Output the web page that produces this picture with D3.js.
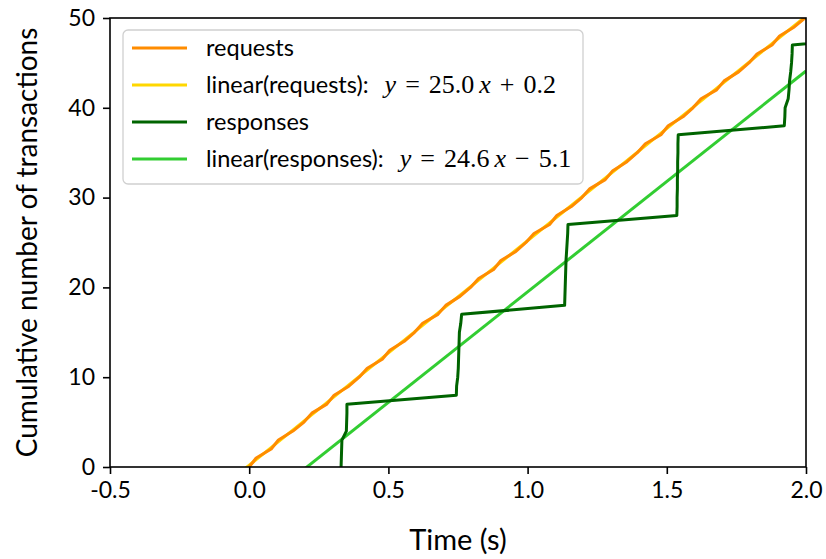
<!DOCTYPE html>
<html>
<head>
<meta charset="utf-8">
<script src="https://cdn.jsdelivr.net/npm/d3@7"></script>
<style>
  html, body { margin: 0; padding: 0; background: #fff; }
  svg { display: block; }
</style>
</head>
<body>
<div id="chart"></div>
<script>
// Cumulative request / response counts over time, with linear fits.

// request arrival times (s); count goes 0..50
const requestTimes = [
  0.000, 0.025, 0.079, 0.105, 0.157, 0.197, 0.225, 0.279, 0.305, 0.358,
  0.395, 0.424, 0.478, 0.505, 0.557, 0.594, 0.623, 0.678, 0.706, 0.757,
  0.795, 0.824, 0.878, 0.904, 0.958, 0.994, 1.023, 1.079, 1.105, 1.157,
  1.195, 1.224, 1.279, 1.306, 1.357, 1.394, 1.423, 1.479, 1.505, 1.558,
  1.594, 1.623, 1.679, 1.706, 1.758, 1.795, 1.824, 1.878, 1.905, 1.958,
  1.996
];

// response times (s); count goes 0..48 (responses come in bursts)
const responseTimes = [
  0.330, 0.331, 0.332, 0.333, 0.349, 0.350, 0.351, 0.351,
  0.744, 0.745, 0.749, 0.751, 0.752, 0.753, 0.754, 0.755, 0.760, 0.763,
  1.133, 1.134, 1.135, 1.136, 1.137, 1.138, 1.140, 1.142, 1.144, 1.145,
  1.536, 1.537, 1.537, 1.538, 1.538, 1.539, 1.539, 1.540, 1.540, 1.541,
  1.922, 1.924, 1.925, 1.936, 1.939, 1.941, 1.945, 1.948, 1.950, 1.951,
  2.320
];

// linear fits [slope, intercept]
const requestFit  = [25.0, 0.2];
const responseFit = [24.6, -5.1];

const xTicks = [-0.5, 0.0, 0.5, 1.0, 1.5, 2.0];
const yTicks = [0, 10, 20, 30, 40, 50];

const W = 826, H = 559;
const M = { top: 18, right: 20, bottom: 92, left: 110 };
const SANS = "Lato, 'Open Sans', sans-serif";
const SERIF = "'Liberation Serif', 'DejaVu Serif', serif";

const C = {
  requests: "#ff8c00",
  requestsFit: "#ffd700",
  responses: "#006400",
  responsesFit: "#32cd32",
};

const svg = d3.select("#chart").append("svg")
  .attr("width", W).attr("height", H)
  .attr("font-family", SANS);

const x = d3.scaleLinear().domain([-0.5, 2.0]).range([M.left, W - M.right]);
const y = d3.scaleLinear().domain([0, 50]).range([H - M.bottom, M.top]);

svg.append("clipPath").attr("id", "plot-clip")
  .append("rect")
  .attr("x", M.left).attr("y", M.top)
  .attr("width", W - M.left - M.right)
  .attr("height", H - M.top - M.bottom);

const plot = svg.append("g").attr("clip-path", "url(#plot-clip)");

const line = d3.line().x(d => x(d[0])).y(d => y(d[1]));
const fitPts = (f) => x.domain().map(t => [t, f[0] * t + f[1]]);

plot.append("path").datum(fitPts(requestFit))
  .attr("d", line).attr("fill", "none")
  .attr("stroke", C.requestsFit).attr("stroke-width", 3);
plot.append("path").datum(fitPts(responseFit))
  .attr("d", line).attr("fill", "none")
  .attr("stroke", C.responsesFit).attr("stroke-width", 3);

plot.append("path").datum(requestTimes.map((t, i) => [t, i]))
  .attr("d", line).attr("fill", "none")
  .attr("stroke", C.requests).attr("stroke-width", 3)
  .attr("stroke-linejoin", "round");
plot.append("path").datum(responseTimes.map((t, i) => [t, i]))
  .attr("d", line).attr("fill", "none")
  .attr("stroke", C.responses).attr("stroke-width", 3)
  .attr("stroke-linejoin", "round");

// axes
const xAxis = svg.append("g")
  .attr("transform", `translate(0,${H - M.bottom})`)
  .call(d3.axisBottom(x).tickValues(xTicks).tickFormat(d3.format(".1f"))
    .tickSize(7).tickPadding(8));
const yAxis = svg.append("g")
  .attr("transform", `translate(${M.left},0)`)
  .call(d3.axisLeft(y).tickValues(yTicks).tickSize(7).tickPadding(8));

for (const ax of [xAxis, yAxis]) {
  ax.select(".domain").remove();
  ax.selectAll(".tick line").attr("stroke", "#000").attr("stroke-width", 1.6);
  ax.selectAll(".tick text")
    .attr("font-family", SANS).attr("font-size", 23).attr("fill", "#000");
}
xAxis.selectAll(".tick text").text(d => d < 0 ? "-" + Math.abs(d).toFixed(1) : d.toFixed(1));

// frame
svg.append("rect")
  .attr("x", M.left).attr("y", M.top)
  .attr("width", W - M.left - M.right)
  .attr("height", H - M.top - M.bottom)
  .attr("fill", "none").attr("stroke", "#000").attr("stroke-width", 1.6);

svg.append("text")
  .attr("x", (M.left + W - M.right) / 2).attr("y", H - 9)
  .attr("text-anchor", "middle").attr("font-size", 29)
  .text("Time (s)");

svg.append("text")
  .attr("transform", `translate(37,${(M.top + H - M.bottom) / 2}) rotate(-90)`)
  .attr("text-anchor", "middle").attr("font-size", 28)
  .text("Cumulative number of transactions");

// legend
const legendItems = [
  { color: C.requests, label: "requests" },
  { color: C.requestsFit, label: "linear(requests):", fit: requestFit },
  { color: C.responses, label: "responses" },
  { color: C.responsesFit, label: "linear(responses):", fit: responseFit },
];

const lg = svg.append("g").attr("transform", "translate(123,30)");
lg.append("rect")
  .attr("width", 460).attr("height", 154).attr("rx", 5)
  .attr("fill", "#fff").attr("fill-opacity", 0.8)
  .attr("stroke", "#d0d0d0").attr("stroke-width", 1.3);

legendItems.forEach((d, i) => {
  const cy = 18 + i * 37;
  lg.append("line")
    .attr("x1", 9).attr("x2", 64).attr("y1", cy).attr("y2", cy)
    .attr("stroke", d.color).attr("stroke-width", 3);
  const t = lg.append("text")
    .attr("x", 83).attr("y", cy).attr("dy", "0.35em")
    .attr("font-size", 23.5);
  t.append("tspan").text(d.label);
  if (d.fit) {
    const sign = d.fit[1] < 0 ? "\u2212" : "+";
    const m = t.append("tspan").attr("font-family", SERIF).attr("font-size", 26);
    m.append("tspan").attr("dx", 16).attr("font-style", "italic").text("y");
    m.append("tspan").attr("dx", 9).text("=");
    m.append("tspan").attr("dx", 9).text(d.fit[0].toFixed(1));
    m.append("tspan").attr("dx", 5).attr("font-style", "italic").text("x");
    m.append("tspan").attr("dx", 9).text(sign);
    m.append("tspan").attr("dx", 9).text(Math.abs(d.fit[1]).toFixed(1));
  }
});
</script>
</body>
</html>
